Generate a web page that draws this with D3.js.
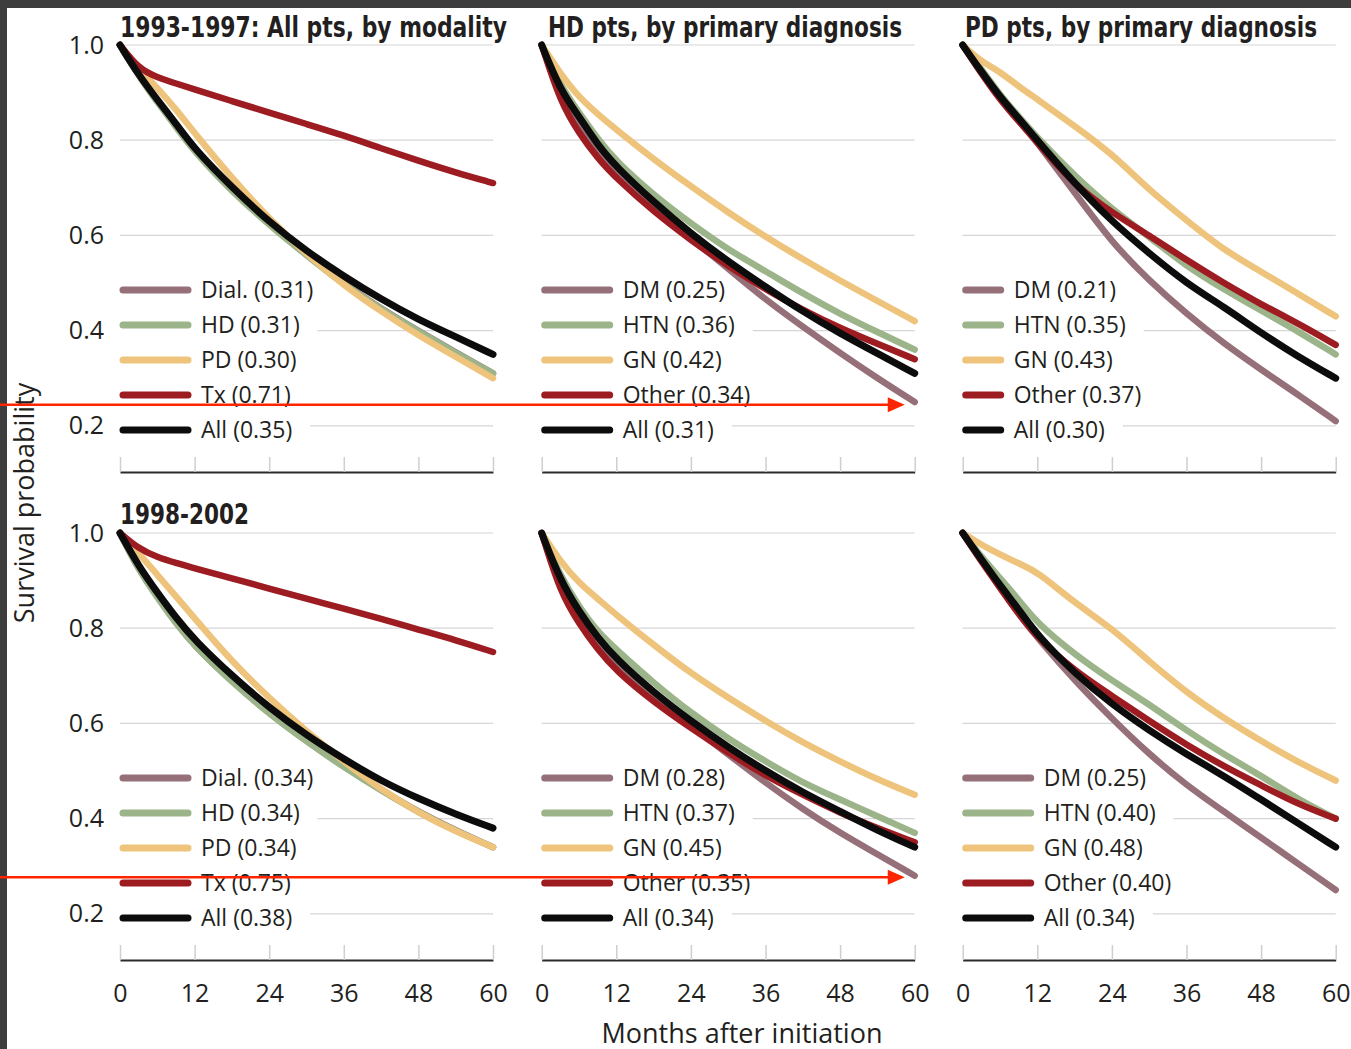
<!DOCTYPE html>
<html>
<head>
<meta charset="utf-8">
<script src="https://cdn.jsdelivr.net/npm/d3@7"></script>
<style>
  html, body { margin: 0; padding: 0; background: #ffffff; }
  svg { display: block; }
  text { font-family: "Open Sans", "Noto Sans", sans-serif; fill: #231f20; }
  .title { font-family: "Liberation Sans Narrow", "DejaVu Sans Condensed", "Roboto", sans-serif; font-weight: bold; }
</style>
</head>
<body>
<svg id="chart" width="1351" height="1049"></svg>
<script>
// Survival probability by months after dialysis initiation (5-year curves)
const months = [0, 3, 6, 9, 12, 18, 24, 30, 36, 42, 48, 54, 60];

// 1993-1997, all patients by modality
const dial9397 = [1, 0.936, 0.882, 0.830, 0.777, 0.694, 0.624, 0.559, 0.498, 0.446, 0.399, 0.354, 0.31];
const hd9397   = [1, 0.935, 0.880, 0.828, 0.775, 0.692, 0.622, 0.558, 0.497, 0.445, 0.398, 0.353, 0.31];
const pd9397   = [1, 0.950, 0.910, 0.865, 0.815, 0.720, 0.635, 0.560, 0.495, 0.440, 0.390, 0.345, 0.30];
const tx9397   = [1, 0.950, 0.932, 0.919, 0.907, 0.882, 0.858, 0.834, 0.810, 0.783, 0.757, 0.732, 0.71];
const all9397  = [1, 0.937, 0.885, 0.835, 0.781, 0.701, 0.628, 0.567, 0.514, 0.466, 0.423, 0.387, 0.35];

// 1993-1997, HD patients by primary diagnosis
const dmHD9397  = [1, 0.890, 0.830, 0.775, 0.730, 0.658, 0.595, 0.530, 0.465, 0.408, 0.353, 0.300, 0.25];
const htnHD9397 = [1, 0.915, 0.858, 0.803, 0.755, 0.685, 0.625, 0.570, 0.525, 0.478, 0.435, 0.397, 0.36];
const gnHD9397  = [1, 0.940, 0.890, 0.855, 0.822, 0.760, 0.703, 0.648, 0.597, 0.550, 0.505, 0.462, 0.42];
const othHD9397 = [1, 0.880, 0.815, 0.762, 0.720, 0.650, 0.590, 0.535, 0.487, 0.443, 0.405, 0.372, 0.34];
const allHD9397 = [1, 0.905, 0.850, 0.790, 0.744, 0.670, 0.604, 0.545, 0.492, 0.440, 0.394, 0.352, 0.31];

// 1993-1997, PD patients by primary diagnosis
const dmPD9397  = [1, 0.945, 0.890, 0.845, 0.795, 0.690, 0.585, 0.505, 0.435, 0.373, 0.318, 0.265, 0.21];
const htnPD9397 = [1, 0.950, 0.895, 0.850, 0.805, 0.725, 0.655, 0.597, 0.535, 0.487, 0.442, 0.398, 0.35];
const gnPD9397  = [1, 0.965, 0.944, 0.913, 0.886, 0.830, 0.772, 0.695, 0.632, 0.569, 0.524, 0.477, 0.43];
const othPD9397 = [1, 0.940, 0.885, 0.840, 0.795, 0.705, 0.648, 0.600, 0.548, 0.500, 0.455, 0.415, 0.37];
const allPD9397 = [1, 0.944, 0.891, 0.846, 0.800, 0.709, 0.629, 0.562, 0.499, 0.450, 0.395, 0.345, 0.30];

// 1998-2002, all patients by modality
const dial9802 = [1, 0.923, 0.866, 0.811, 0.763, 0.688, 0.621, 0.563, 0.509, 0.460, 0.414, 0.375, 0.34];
const hd9802   = [1, 0.922, 0.865, 0.810, 0.762, 0.687, 0.620, 0.562, 0.508, 0.459, 0.413, 0.374, 0.34];
const pd9802   = [1, 0.958, 0.912, 0.867, 0.821, 0.730, 0.653, 0.583, 0.520, 0.461, 0.412, 0.373, 0.34];
const tx9802   = [1, 0.967, 0.949, 0.937, 0.926, 0.905, 0.883, 0.862, 0.841, 0.820, 0.797, 0.775, 0.75];
const all9802  = [1, 0.930, 0.875, 0.822, 0.775, 0.700, 0.633, 0.575, 0.525, 0.479, 0.442, 0.409, 0.38];

// 1998-2002, HD patients by primary diagnosis
const dmHD9802  = [1, 0.885, 0.820, 0.770, 0.725, 0.655, 0.595, 0.535, 0.475, 0.420, 0.370, 0.325, 0.28];
const htnHD9802 = [1, 0.910, 0.845, 0.792, 0.755, 0.685, 0.622, 0.568, 0.520, 0.475, 0.440, 0.405, 0.37];
const gnHD9802  = [1, 0.940, 0.895, 0.862, 0.828, 0.765, 0.705, 0.654, 0.605, 0.560, 0.520, 0.482, 0.45];
const othHD9802 = [1, 0.875, 0.810, 0.755, 0.710, 0.645, 0.590, 0.538, 0.490, 0.450, 0.412, 0.380, 0.35];
const allHD9802 = [1, 0.900, 0.835, 0.780, 0.735, 0.665, 0.605, 0.550, 0.500, 0.455, 0.415, 0.375, 0.34];

// 1998-2002, PD patients by primary diagnosis
const dmPD9802  = [1, 0.945, 0.885, 0.830, 0.780, 0.690, 0.610, 0.535, 0.470, 0.415, 0.360, 0.305, 0.25];
const htnPD9802 = [1, 0.950, 0.905, 0.860, 0.810, 0.745, 0.690, 0.640, 0.585, 0.535, 0.490, 0.440, 0.40];
const gnPD9802  = [1, 0.975, 0.955, 0.936, 0.919, 0.853, 0.800, 0.730, 0.665, 0.611, 0.563, 0.518, 0.48];
const othPD9802 = [1, 0.940, 0.885, 0.830, 0.780, 0.710, 0.658, 0.605, 0.555, 0.510, 0.470, 0.430, 0.40];
const allPD9802 = [1, 0.945, 0.890, 0.840, 0.785, 0.705, 0.640, 0.585, 0.535, 0.490, 0.440, 0.390, 0.34];

const modalityNames  = ["Dial.", "HD", "PD", "Tx", "All"];
const diagnosisNames = ["DM", "HTN", "GN", "Other", "All"];
const seriesColors   = ["#967079", "#9cb489", "#eec37b", "#9d1c21", "#0c0c0c"];

const xTicks = [0, 12, 24, 36, 48, 60];
const yTicks = [0.2, 0.4, 0.6, 0.8, 1.0];

// DM 5-year survival levels marked with arrows
const arrowLevels = [0.244, 0.277];
const arrowTipMonth = 58.4;

const panels = [
  { row: 0, col: 0, names: modalityNames,  series: [dial9397, hd9397, pd9397, tx9397, all9397] },
  { row: 0, col: 1, names: diagnosisNames, series: [dmHD9397, htnHD9397, gnHD9397, othHD9397, allHD9397] },
  { row: 0, col: 2, names: diagnosisNames, series: [dmPD9397, htnPD9397, gnPD9397, othPD9397, allPD9397], shortKey: true },
  { row: 1, col: 0, names: modalityNames,  series: [dial9802, hd9802, pd9802, tx9802, all9802] },
  { row: 1, col: 1, names: diagnosisNames, series: [dmHD9802, htnHD9802, gnHD9802, othHD9802, allHD9802] },
  { row: 1, col: 2, names: diagnosisNames, series: [dmPD9802, htnPD9802, gnPD9802, othPD9802, allPD9802] }
];

const titles = [
  { text: "1993-1997: All pts, by modality", x: 120, y: 37, len: 387 },
  { text: "HD pts, by primary diagnosis",    x: 548, y: 37, len: 354 },
  { text: "PD pts, by primary diagnosis",    x: 965, y: 37, len: 352 },
  { text: "1998-2002",                        x: 120, y: 524, len: 129 }
];

// ---- layout ----
const colX = [120, 541.7, 962.7];
const plotW = 373;
const rowTop = [45, 533];
const fullH = 476;        // pixel height of the 0..1 probability range
const baseOffset = 427;   // axis line below the 1.0 gridline

const svg = d3.select("#chart");
svg.append("rect").attr("width", 1351).attr("height", 1049).attr("fill", "#ffffff");
// dark frame along the top and left edges
svg.append("rect").attr("x", 0).attr("y", 0).attr("width", 1351).attr("height", 8).attr("fill", "#3d3d3d");
svg.append("rect").attr("x", 0).attr("y", 0).attr("width", 7).attr("height", 1049).attr("fill", "#3d3d3d");

const line = d3.line().curve(d3.curveBasis);
const scales = [];

panels.forEach(p => {
  const x0 = colX[p.col], top = rowTop[p.row];
  const x = d3.scaleLinear().domain([0, 60]).range([x0, x0 + plotW]);
  const y = d3.scaleLinear().domain([0, 1]).range([top + fullH, top]);
  scales.push({ x, y });
  const g = svg.append("g");

  // gridlines
  g.selectAll("line.grid").data(yTicks).join("line")
    .attr("class", "grid")
    .attr("x1", x(0)).attr("x2", x(60))
    .attr("y1", d => y(d)).attr("y2", d => y(d))
    .attr("stroke", "#d6d6d6").attr("stroke-width", 1.2);

  // x axis: baseline with short upward ticks
  const axis = d3.axisBottom(x).tickValues(xTicks).tickSizeInner(-15).tickSizeOuter(0).tickPadding(24)
    .tickFormat(p.row === 1 ? d3.format("d") : () => "");
  const ax = g.append("g").attr("transform", `translate(0,${top + baseOffset})`).call(axis);
  ax.select(".domain").attr("stroke", "#2b2b2b").attr("stroke-width", 2);
  ax.selectAll(".tick line").attr("stroke", "#cfcfcf").attr("stroke-width", 1.5);
  ax.selectAll(".tick text").attr("font-size", 25).attr("fill", "#231f20")
    .attr("font-family", "'Open Sans', sans-serif");

  // y tick labels on the left column
  if (p.col === 0) {
    const yAxis = d3.axisLeft(y).tickValues(yTicks).tickSize(0).tickPadding(16).tickFormat(d3.format(".1f"));
    const ya = g.append("g").attr("transform", `translate(${x0},0)`).call(yAxis);
    ya.select(".domain").remove();
    ya.selectAll(".tick text").attr("font-size", 25).attr("fill", "#231f20")
      .attr("font-family", "'Open Sans', sans-serif");
  }

  // legend rows, each on a white box that hides the gridline behind it
  const swLen = p.shortKey ? 35 : 65;
  const leg = g.append("g");
  p.names.forEach((name, i) => {
    const cy = top + 245 + i * 35;
    const row = leg.append("g");
    const bg = row.append("rect").attr("fill", "#ffffff");
    row.append("line")
      .attr("x1", x0 + 3).attr("x2", x0 + 3 + swLen)
      .attr("y1", cy).attr("y2", cy)
      .attr("stroke", seriesColors[i]).attr("stroke-width", 7).attr("stroke-linecap", "round");
    const vals = p.series[i];
    const t = row.append("text")
      .attr("x", x0 + swLen + 16).attr("y", cy).attr("dy", "0.36em")
      .attr("font-size", 23)
      .text(`${name} (${d3.format(".2f")(vals[vals.length - 1])})`);
    const tw = t.node().getComputedTextLength();
    bg.attr("x", x0 - 2).attr("y", cy - 17).attr("width", swLen + 16 + tw + 20).attr("height", 34);
  });

  // survival curves
  p.series.forEach((vals, i) => {
    g.append("path")
      .attr("d", line(vals.map((v, k) => [x(months[k]), y(v)])))
      .attr("fill", "none")
      .attr("stroke", seriesColors[i])
      .attr("stroke-width", i === 4 ? 7 : 6.5)
      .attr("stroke-linecap", "round")
      .attr("stroke-linejoin", "round");
  });
});

// panel titles
titles.forEach(t => {
  svg.append("text").attr("class", "title")
    .attr("x", t.x).attr("y", t.y)
    .attr("font-size", 29)
    .attr("textLength", t.len).attr("lengthAdjust", "spacingAndGlyphs")
    .text(t.text);
});

// axis titles
svg.append("text")
  .attr("transform", "translate(34,503) rotate(-90)")
  .attr("text-anchor", "middle").attr("font-size", 27)
  .text("Survival probability");
svg.append("text")
  .attr("x", 742).attr("y", 1043)
  .attr("text-anchor", "middle").attr("font-size", 27)
  .text("Months after initiation");

// red arrows pointing at the DM 5-year level in the HD panels
arrowLevels.forEach((lv, r) => {
  const { x, y } = scales[r * 3 + 1];
  const yy = y(lv), tip = x(arrowTipMonth);
  svg.append("line")
    .attr("x1", 0).attr("x2", tip - 14).attr("y1", yy).attr("y2", yy)
    .attr("stroke", "#ff2400").attr("stroke-width", 2.5);
  svg.append("path")
    .attr("d", `M${tip - 17},${yy - 7.5} L${tip},${yy} L${tip - 17},${yy + 7.5} Z`)
    .attr("fill", "#ff2400");
});
</script>
</body>
</html>
